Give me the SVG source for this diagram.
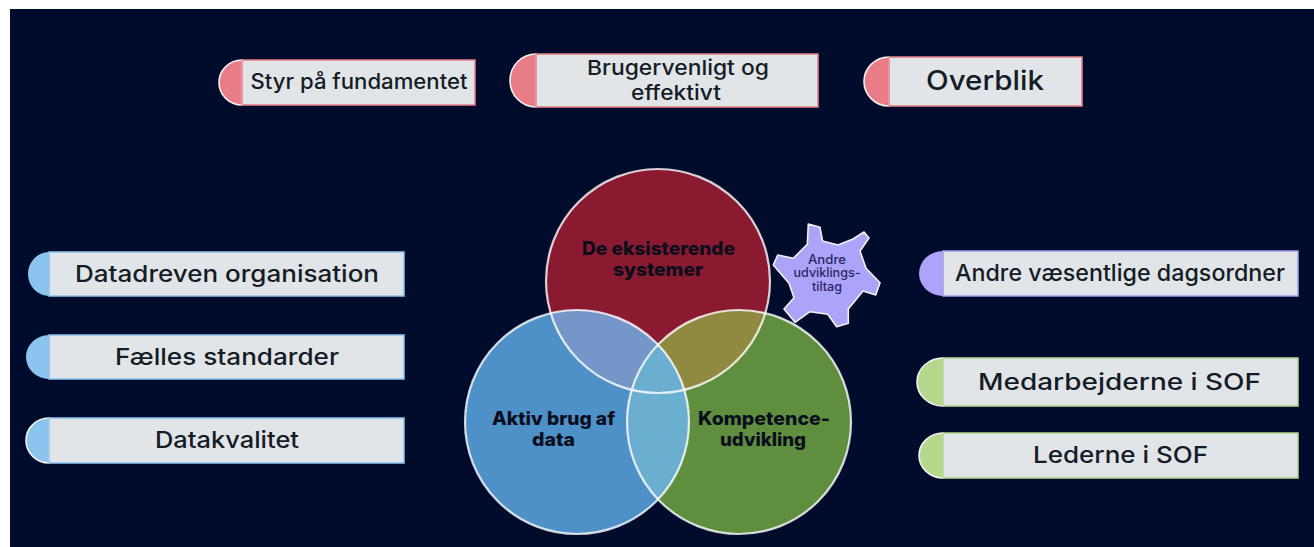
<svg xmlns="http://www.w3.org/2000/svg" width="1314" height="547" viewBox="0 0 1314 547">
<style>
text{font-family:"Inter","Noto Sans","Liberation Sans",sans-serif;text-anchor:middle}
.l{font-size:23px;fill:#141c26;font-weight:450}
.s{font-size:21px}
.b{font-size:20.5px}
.v{font-size:18.5px;font-weight:800;fill:#0a0d1c}
.g{font-size:12.5px;fill:#2b2466;font-weight:500}
.box{fill:#e2e5e8;stroke-width:1.5}
.cap{stroke:#f2f2f2;stroke-width:1.6}
.pink .box{stroke:#e87d88}.pink .cap{fill:#e87d88}
.blue .box{stroke:#8cc4f0}.blue .cap{fill:#8cc4f0}
.lil .box{stroke:#a99cf0}.lil .cap{fill:#aca4f8}
.grn .box{stroke:#b4d68a}.grn .cap{fill:#b6d88c}
.plain .cap{stroke:none}
.ring{fill:none;stroke:#fff;stroke-opacity:.8;stroke-width:2.2}
</style>
<defs>
<clipPath id="cr"><circle cx="658" cy="281" r="112"/></clipPath>
<clipPath id="cb"><circle cx="577" cy="422" r="112"/></clipPath>
<clipPath id="cg"><circle cx="739" cy="422" r="112"/></clipPath>
</defs>
<rect width="1314" height="547" fill="#fff"/>
<rect x="10" y="9" width="1304" height="538" fill="#010c2c"/>

<g id="node-styr" class="pink"><path class="cap" d="M242 60A23 22.5 0 0 0 242 105Z"/><rect class="box" x="242" y="60" width="233" height="45"/><text class="l s" x="359" y="89" textLength="217" lengthAdjust="spacingAndGlyphs">Styr på fundamentet</text></g>
<g id="node-bruger" class="pink"><path class="cap" d="M536 54A26 26.500 0 0 0 536 107Z"/><rect class="box" x="536" y="54" width="282" height="53"/><text class="l b" x="678" y="74.500" textLength="182" lengthAdjust="spacingAndGlyphs">Brugervenligt og</text><text class="l b" x="676" y="99.500" textLength="90" lengthAdjust="spacingAndGlyphs">effektivt</text></g>
<g id="node-overblik" class="pink"><path class="cap" d="M889 57A25 24.500 0 0 0 889 106Z"/><rect class="box" x="889" y="57" width="193" height="49"/><text class="l" style="font-size:27px" x="985" y="90" textLength="118" lengthAdjust="spacingAndGlyphs">Overblik</text></g>

<g id="node-datadreven" class="blue plain"><path class="cap" d="M49 252A21 22 0 0 0 49 296Z"/><rect class="box" x="49" y="252" width="355" height="44"/><text class="l" x="227" y="282" textLength="304" lengthAdjust="spacingAndGlyphs">Datadreven organisation</text></g>
<g id="node-faelles" class="blue plain"><path class="cap" d="M49 335A23 22 0 0 0 49 379Z"/><rect class="box" x="49" y="335" width="355" height="44"/><text class="l" x="227" y="365" textLength="224" lengthAdjust="spacingAndGlyphs">Fælles standarder</text></g>
<g id="node-datakvalitet" class="blue"><path class="cap" d="M49 418A23 22.500 0 0 0 49 463Z"/><rect class="box" x="49" y="418" width="355" height="45"/><text class="l" x="227" y="448" textLength="144" lengthAdjust="spacingAndGlyphs">Datakvalitet</text></g>

<g id="node-andre" class="lil plain"><path class="cap" d="M943 251A24 22.500 0 0 0 943 296Z"/><rect class="box" x="943" y="251" width="355" height="45"/><text class="l" x="1120" y="281" textLength="330" lengthAdjust="spacingAndGlyphs">Andre væsentlige dagsordner</text></g>
<g id="node-medarbejderne" class="grn"><path class="cap" d="M943 358A26 24 0 0 0 943 406Z"/><rect class="box" x="943" y="358" width="355" height="48"/><text class="l" x="1119.500" y="390" textLength="283" lengthAdjust="spacingAndGlyphs">Medarbejderne i SOF</text></g>
<g id="node-lederne" class="grn"><path class="cap" d="M943 433A24 22.500 0 0 0 943 478Z"/><rect class="box" x="943" y="433" width="355" height="45"/><text class="l" x="1120.500" y="463" textLength="175" lengthAdjust="spacingAndGlyphs">Lederne i SOF</text></g>

<g id="node-venn">
<circle cx="658" cy="281" r="112" fill="#8a1a2f"/>
<circle cx="577" cy="422" r="112" fill="#4e90c8"/>
<circle cx="739" cy="422" r="112" fill="#5f8f3e"/>
<circle cx="658" cy="281" r="112" fill="#7596c8" clip-path="url(#cb)"/>
<g clip-path="url(#cr)"><circle cx="739" cy="422" r="112" fill="#8f8a3f"/></g>
<g clip-path="url(#cb)"><circle cx="739" cy="422" r="112" fill="#6aaed0"/></g>
<circle class="ring" cx="658" cy="281" r="112"/>
<circle class="ring" cx="577" cy="422" r="112"/>
<circle class="ring" cx="739" cy="422" r="112"/>
<text class="v" x="658.500" y="255" textLength="153" lengthAdjust="spacingAndGlyphs">De eksisterende</text>
<text class="v" x="658" y="276" textLength="90" lengthAdjust="spacingAndGlyphs">systemer</text>
<text class="v" x="553.500" y="425" textLength="123" lengthAdjust="spacingAndGlyphs">Aktiv brug af</text>
<text class="v" x="553.500" y="446" textLength="43" lengthAdjust="spacingAndGlyphs">data</text>
<text class="v" x="764" y="425" textLength="132" lengthAdjust="spacingAndGlyphs">Kompetence-</text>
<text class="v" x="763" y="446" textLength="86" lengthAdjust="spacingAndGlyphs">udvikling</text>
</g>

<g id="node-gear">
<polygon points="808.300,224 820,227.300 822.500,241 838,245 853,239 864,232 869,238 860,251 866,268.300 880,282.700 875.700,295 863,291 848.300,309 848.300,323.300 836.700,326.700 827.700,314.300 810,311.700 795,322.300 784,309 794,297.700 789,283.300 773.300,265 777.700,255 793.300,258.300 807.300,244.300" fill="#aca4f8" stroke="#f2f2f2" stroke-width="1.600" stroke-linejoin="round"/>
<text class="g" x="827" y="263.500" textLength="38" lengthAdjust="spacingAndGlyphs">Andre</text>
<text class="g" x="827" y="277" textLength="67" lengthAdjust="spacingAndGlyphs">udviklings-</text>
<text class="g" x="827" y="291" textLength="30" lengthAdjust="spacingAndGlyphs">tiltag</text>
</g>
</svg>
